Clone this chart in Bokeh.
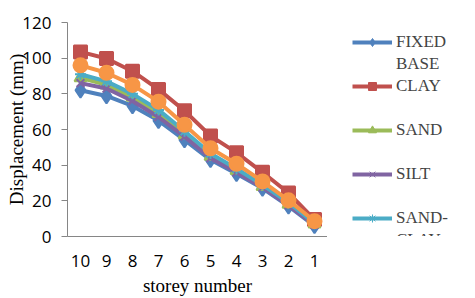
from bokeh.plotting import figure
from bokeh.models import Legend, LegendItem, FactorRange, Range1d
from bokeh.layouts import row
from bokeh.embed import file_html
from bokeh.resources import INLINE

storeys = ["10", "9", "8", "7", "6", "5", "4", "3", "2", "1"]
fixed_base = [82, 78.8, 73.2, 65, 54.2, 43, 35.2, 27, 17, 6]
clay = [103.5, 99.8, 92.7, 82.5, 70.5, 56.4, 47, 36, 24.4, 9.5]
sand = [89, 85, 78, 69, 57, 45, 37, 28, 18, 7]
silt = [86, 83, 76, 67, 56, 44, 36, 27.5, 17.5, 6.5]
sand_clay = [91, 87, 80, 71, 59, 46.5, 38, 29, 19, 7.5]
silt_clay = [96, 91.8, 85, 75.6, 62.6, 49.5, 40.8, 30.9, 20.3, 8.6]

# (legend label lines, values, colour, marker, marker size)
series = [
    (["FIXED", "BASE"], fixed_base, "#4F81BD", "diamond", 15),
    (["CLAY", " "], clay, "#C0504D", "square", 13),
    (["SAND", " "], sand, "#9BBB59", "triangle", 12),
    (["SILT", " "], silt, "#8064A2", "x", 11),
    (["SAND-", "CLAY"], sand_clay, "#4BACC6", "asterisk", 11),
    (["SILT-", "CLAY"], silt_clay, "#F79646", "circle", 14),
]

p = figure(width=327, height=298, x_range=FactorRange(*storeys, range_padding=0),
           y_range=Range1d(0, 120), output_backend="svg", toolbar_location=None,
           min_border_left=67, min_border_top=22, min_border_bottom=61, min_border_right=0)
p.outline_line_color = None
p.xgrid.grid_line_color = None
p.ygrid.grid_line_color = None

for lines, vals, color, marker, size in series:
    p.line(storeys, vals, line_color=color, line_width=4)
    p.scatter(storeys, vals, marker=marker, size=size, fill_color=color,
              line_color=color, line_width=2)

p.yaxis.ticker = [0, 20, 40, 60, 80, 100, 120]
p.yaxis.axis_label = "Displacement (mm)"
p.xaxis.axis_label = "storey number"
for ax in (p.xaxis, p.yaxis):
    ax.axis_line_color = "#868686"
    ax.major_tick_line_color = "#868686"
    ax.minor_tick_line_color = None
    ax.major_label_text_font = "Open Sans"
    ax.major_label_text_font_size = "17px"
    ax.major_label_text_color = "#000000"
    ax.axis_label_text_font = "Liberation Serif"
    ax.axis_label_text_font_size = "19px"
    ax.axis_label_text_font_style = "normal"
    ax.axis_label_text_color = "#000000"
p.yaxis.major_tick_out = 6
p.yaxis.major_tick_in = 0
p.yaxis.major_label_standoff = 10
p.yaxis.axis_label_standoff = -8
p.xaxis.major_tick_out = 0
p.xaxis.major_tick_in = 0
p.xaxis.major_label_standoff = 18
p.xaxis.axis_label_standoff = 5

# legend panel
q = figure(width=148, height=298, x_range=Range1d(0, 1), y_range=Range1d(0, 1),
           x_axis_type=None, y_axis_type=None, output_backend="svg", toolbar_location=None,
           min_border_left=15, min_border_right=0, min_border_top=0, min_border_bottom=0)
q.outline_line_color = None
q.xgrid.grid_line_color = None
q.ygrid.grid_line_color = None

nan = float("nan")
blank = q.line([0], [nan], line_alpha=0)
items = []
for lines, vals, color, marker, size in series:
    lg1 = q.line([0], [nan], line_color=color, line_width=4)
    lg2 = q.scatter([0], [nan], marker=marker, size=8, fill_color=color, line_color=color)
    items.append(LegendItem(label=lines[0], renderers=[lg1, lg2]))
    items.append(LegendItem(label=lines[1], renderers=[blank]))

legend = Legend(items=items, border_line_color=None, background_fill_alpha=0,
                label_text_font="Liberation Serif", label_text_font_size="17px",
                glyph_width=40, glyph_height=20, label_height=20, label_width=54, spacing=2,
                label_standoff=4, padding=0, margin=10, location="top_left")
q.add_layout(legend, "center")

layout = row(p, q, spacing=0)
open("out.html", "w").write(file_html(layout, INLINE))
